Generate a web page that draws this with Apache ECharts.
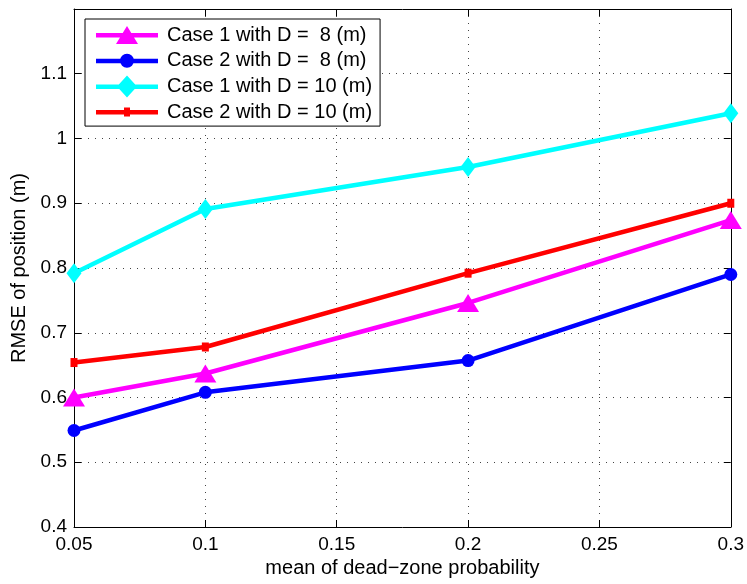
<!DOCTYPE html>
<html>
<head>
<meta charset="utf-8">
<script src="https://cdn.jsdelivr.net/npm/echarts@6/dist/echarts.min.js"></script>
<style>
  html, body { margin: 0; padding: 0; background: #fff; }
  #main { width: 747px; height: 584px; }
</style>
</head>
<body>
<div id="main"></div>
<script>
// 数据：横轴为死区概率均值
var xValues = [0.05, 0.1, 0.2, 0.3];
var case1D8 = [0.600, 0.637, 0.746, 0.874];
var case2D8 = [0.549, 0.608, 0.657, 0.790];
var case1D10 = [0.792, 0.891, 0.956, 1.039];
var case2D10 = [0.654, 0.678, 0.792, 0.900];
var seriesNames = ['Case 1 with D =  8 (m)', 'Case 2 with D =  8 (m)', 'Case 1 with D = 10 (m)', 'Case 2 with D = 10 (m)'];

var myChart = echarts.init(document.getElementById('main'));
var font = 'Liberation Sans, Arial, Helvetica, sans-serif';

function pairs(ys) {
    return xValues.map(function (x, i) { return [x, ys[i]]; });
}

function makeSeries(name, ys, color, symbol, size) {
    return {
        name: name,
        type: 'line',
        data: pairs(ys),
        symbol: symbol,
        symbolSize: size,
        showAllSymbol: true,
        lineStyle: { color: color, width: 4.5 },
        itemStyle: { color: color, borderColor: color, borderWidth: 0 },
        emphasis: { disabled: true },
        animation: false
    };
}

// 图例图标：线 + 标记（62 x 22 的框）
var frame = 'M0,0L0,0M62,22L62,22';
var bar = 'M0,9L62,9L62,13.5L0,13.5Z';
var legendIcons = [
    'path://' + frame + bar + 'M31,2L42,20L20,20Z',
    'path://' + frame + bar + 'M24,11A7,7 0 1,1 38,11A7,7 0 1,1 24,11Z',
    'path://' + frame + bar + 'M31,0L41,11L31,22L21,11Z',
    'path://' + frame + bar + 'M28,6.5L34,6.5L34,15.5L28,15.5Z'
];

var dotted = { type: [1, 6], color: '#444', width: 1 };

var option = {
    animation: false,
    grid: { left: 74, right: 16, top: 9, bottom: 57, show: false },
    legend: {
        orient: 'vertical',
        left: 85,
        top: 19,
        padding: [5, 8, 3, 11],
        itemWidth: 62,
        itemHeight: 22,
        itemGap: 3.7,
        backgroundColor: '#fff',
        borderColor: '#000',
        borderWidth: 1,
        borderRadius: 0,
        textStyle: { fontFamily: font, fontSize: 20, color: '#000', padding: [0, 0, 0, 4] },
        data: seriesNames.map(function (n, i) { return { name: n, icon: legendIcons[i] }; })
    },
    xAxis: [{
        type: 'value',
        min: 0.05,
        max: 0.3,
        interval: 0.05,
        name: 'mean of dead\u2212zone probability',
        nameLocation: 'middle',
        nameGap: 21,
        nameTextStyle: { fontFamily: font, fontSize: 20, color: '#000' },
        axisLine: { show: true, lineStyle: { color: '#000', width: 1 } },
        axisTick: { show: true, inside: true, length: 7, lineStyle: { color: '#000' } },
        axisLabel: { fontFamily: font, fontSize: 19, color: '#000', margin: 8 },
        splitLine: { show: true, lineStyle: dotted }
    }, {
        type: 'value',
        position: 'top',
        min: 0.05,
        max: 0.3,
        interval: 0.05,
        axisLine: { show: true, lineStyle: { color: '#000', width: 1 } },
        axisTick: { show: true, inside: true, length: 7, lineStyle: { color: '#000' } },
        axisLabel: { show: false },
        splitLine: { show: false }
    }],
    yAxis: [{
        type: 'value',
        min: 0.4,
        max: 1.2,
        interval: 0.1,
        name: 'RMSE of position (m)',
        nameLocation: 'middle',
        nameGap: 43,
        nameTextStyle: { fontFamily: font, fontSize: 20, color: '#000' },
        axisLine: { show: true, lineStyle: { color: '#000', width: 1 } },
        axisTick: { show: true, inside: true, length: 7, lineStyle: { color: '#000' } },
        axisLabel: { fontFamily: font, fontSize: 19, color: '#000', margin: 7, showMaxLabel: false },
        splitLine: { show: true, lineStyle: dotted }
    }, {
        type: 'value',
        position: 'right',
        min: 0.4,
        max: 1.2,
        interval: 0.1,
        axisLine: { show: true, lineStyle: { color: '#000', width: 1 } },
        axisTick: { show: true, inside: true, length: 7, lineStyle: { color: '#000' } },
        axisLabel: { show: false },
        splitLine: { show: false }
    }],
    series: [
        makeSeries(seriesNames[0], case1D8, '#ff00ff', 'triangle', [22, 18]),
        makeSeries(seriesNames[1], case2D8, '#0000ff', 'circle', 13),
        makeSeries(seriesNames[2], case1D10, '#00ffff', 'diamond', [15, 20]),
        makeSeries(seriesNames[3], case2D10, '#ff0000', 'rect', [7, 9])
    ]
};

myChart.setOption(option);
window.onresize = myChart.resize;
</script>
</body>
</html>
